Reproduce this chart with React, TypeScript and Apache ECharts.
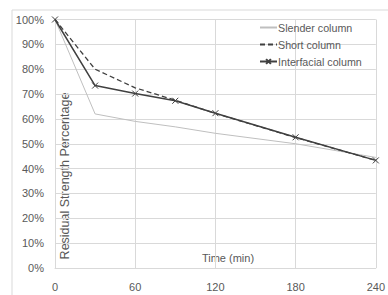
import React, { useEffect, useRef } from "react";
import * as echarts from "echarts";

const times = [0, 30, 60, 90, 120, 180, 240];
const slender = [100, 62, 59, 56.8, 54.2, 50, 44.5];
const shortCol = [100, 80, 72.5, 67.5, 62.2, 52.5, 43.3];
const interfacial = [100, 73.4, 70.2, 67.3, 62.3, 52.6, 43.3];
const seriesNames = ["Slender column", "Short column", "Interfacial column"];

const FONT = "Liberation Sans";

export default function App() {
  const ref = useRef<HTMLDivElement>(null);
  useEffect(() => {
    const chart = echarts.init(ref.current!, null, { renderer: "svg" });
    const pairs = (vals: number[]) => times.map((t, i) => [t, vals[i]]);
    chart.setOption({
      animation: false,
      grid: { left: 55, right: 9, top: 19.5, bottom: 27, containLabel: false },
      xAxis: {
        type: "value",
        min: 0,
        max: 240,
        interval: 60,
        axisLine: { show: true, lineStyle: { color: "#d9d9d9" } },
        axisTick: { show: false },
        splitLine: { show: true, lineStyle: { color: "#d9d9d9" } },
        axisLabel: { color: "#595959", fontSize: 11, fontFamily: FONT, margin: 13 },
      },
      yAxis: {
        type: "value",
        min: 0,
        max: 100,
        interval: 10,
        axisLine: { show: true, lineStyle: { color: "#d9d9d9" } },
        axisTick: { show: false },
        splitLine: { show: true, lineStyle: { color: "#d9d9d9" } },
        axisLabel: { color: "#595959", fontSize: 11, fontFamily: FONT, margin: 11, formatter: "{value}%" },
      },
      legend: {
        orient: "vertical",
        left: 259,
        top: 22,
        padding: 0,
        itemWidth: 17,
        itemHeight: 6,
        itemGap: 6,
        textStyle: { color: "#595959", fontSize: 10.7, fontFamily: FONT, padding: [0, 0, 0, -4] },
        data: [
          { name: seriesNames[0], itemStyle: { opacity: 0 } },
          { name: seriesNames[1], itemStyle: { opacity: 0 } },
          { name: seriesNames[2] },
        ],
      },
      graphic: [
        {
          type: "rect",
          shape: { x: 12, y: 10, width: 400, height: 320 },
          style: { fill: "none", stroke: "#d9d9d9", lineWidth: 1 },
          silent: true,
        },
        {
          type: "text",
          x: 65,
          y: 176,
          rotation: Math.PI / 2,
          style: {
            text: "Residual Strength Percentage",
            fill: "#595959",
            font: `12.5px ${FONT}`,
            align: "center",
            verticalAlign: "middle",
          },
        },
        {
          type: "text",
          x: 228,
          y: 258,
          style: {
            text: "Time (min)",
            fill: "#595959",
            font: `11px ${FONT}`,
            align: "center",
            verticalAlign: "middle",
          },
        },
      ],
      series: [
        {
          name: seriesNames[0],
          type: "line",
          data: pairs(slender),
          symbol: "none",
          lineStyle: { color: "#bfbfbf", width: 1 },
          itemStyle: { color: "#bfbfbf" },
        },
        {
          name: seriesNames[1],
          type: "line",
          data: pairs(shortCol),
          symbol: "none",
          lineStyle: { color: "#404040", width: 1.3, type: [5, 3] },
          itemStyle: { color: "#404040" },
        },
        {
          name: seriesNames[2],
          type: "line",
          data: pairs(interfacial),
          symbol: "path://M0,0L10,10M10,0L0,10",
          symbolSize: 6,
          lineStyle: { color: "#404040", width: 1.5 },
          itemStyle: { color: "none", borderColor: "#404040", borderWidth: 1 },
        },
      ],
    });
    return () => chart.dispose();
  }, []);
  return (
    <div
      ref={ref}
      style={{ position: "fixed", left: 0, top: 0, width: 388, height: 295, background: "#fff" }}
    />
  );
}
